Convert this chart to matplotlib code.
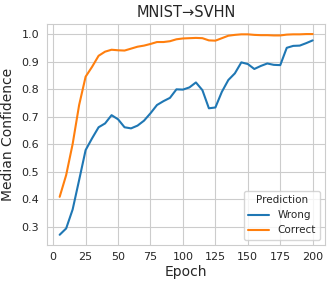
import matplotlib
matplotlib.use("Agg")
import matplotlib.pyplot as plt
import seaborn as sns

epochs = list(range(5, 205, 5))
wrong = [0.270, 0.293, 0.362, 0.469, 0.578, 0.621, 0.661, 0.675, 0.705, 0.690,
         0.661, 0.657, 0.667, 0.685, 0.712, 0.742, 0.756, 0.768, 0.799, 0.798,
         0.806, 0.824, 0.796, 0.730, 0.733, 0.790, 0.833, 0.857, 0.897, 0.891,
         0.873, 0.884, 0.893, 0.888, 0.887, 0.950, 0.957, 0.958, 0.967, 0.977]
correct = [0.408, 0.487, 0.600, 0.742, 0.845, 0.881, 0.921, 0.936, 0.943, 0.941,
           0.940, 0.947, 0.954, 0.958, 0.964, 0.971, 0.971, 0.974, 0.981, 0.984,
           0.985, 0.986, 0.985, 0.977, 0.976, 0.985, 0.994, 0.997, 0.999, 0.999,
           0.997, 0.996, 0.996, 0.995, 0.995, 0.998, 0.999, 0.999, 1.000, 1.000]

sns.set_style("whitegrid")
plt.rcParams['font.family'] = ['DejaVu Sans']

fig = plt.figure(figsize=(3.32, 2.86), dpi=100)
ax = fig.add_axes([0.1416, 0.144, 0.8384, 0.772])
ax.plot(epochs, wrong, color="#1f77b4", lw=1.5, label="Wrong")
ax.plot(epochs, correct, color="#ff7f0e", lw=1.5, label="Correct")
ax.set_xticks([0, 25, 50, 75, 100, 125, 150, 175, 200])
ax.set_yticks([0.3, 0.4, 0.5, 0.6, 0.7, 0.8, 0.9, 1.0])
ax.tick_params(labelsize=8, pad=2)
ax.set_xlabel("Epoch", fontsize=10, labelpad=2)
ax.set_ylabel("Median Confidence", fontsize=10, labelpad=5)
ax.set_title("MNIST→SVHN", fontsize=10.5, pad=5)
ax.legend(title="Prediction", loc="lower right", fontsize=7.5, title_fontsize=7.5)
fig.savefig("out.png", dpi=100)
